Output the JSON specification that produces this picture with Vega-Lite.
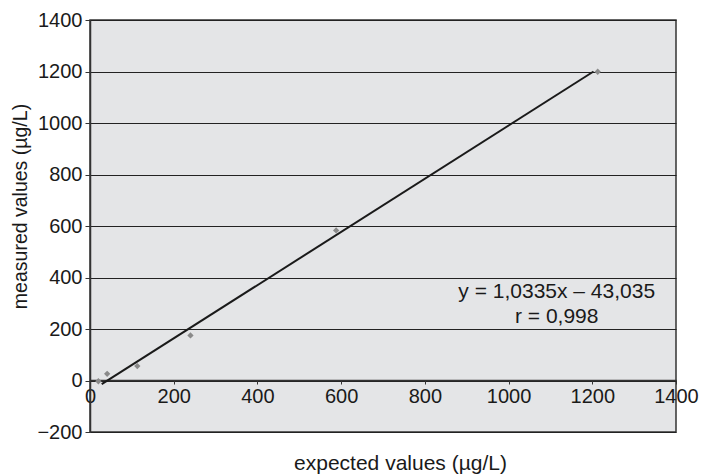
{
  "$schema": "https://vega.github.io/schema/vega-lite/v6.json",
  "autosize": "none",
  "width": 586,
  "height": 412,
  "padding": {"left": 90, "top": 20, "right": 25, "bottom": 44},
  "background": "white",
  "config": {
    "font": "Liberation Sans",
    "view": {"fill": "#e4e5e7", "stroke": "#333333", "strokeWidth": 1.5},
    "axis": {"labelFont": "Liberation Sans", "titleFont": "Liberation Sans", "labelFontSize": 20, "titleFontSize": 21, "labelColor": "#1a1a1a", "titleColor": "#1a1a1a", "titleFontWeight": "normal", "domainColor": "#333333", "tickColor": "#333333"}
  },
  "datasets": {
    "points": [
      {"expected": 20, "measured": -3},
      {"expected": 41, "measured": 26},
      {"expected": 113, "measured": 56},
      {"expected": 240, "measured": 175},
      {"expected": 588, "measured": 583},
      {"expected": 1213, "measured": 1199}
    ],
    "fit": [
      {"expected": 28, "measured": -14},
      {"expected": 1203, "measured": 1200}
    ],
    "labels": [
      {"expected": 1115, "measured": 344, "text": "y = 1,0335x – 43,035"},
      {"expected": 1115, "measured": 247, "text": "r = 0,998"}
    ]
  },
  "layer": [
    {
      "data": {"name": "points"},
      "mark": {"type": "point", "shape": "diamond", "filled": true, "color": "#8a8a8a", "size": 40, "opacity": 1},
      "encoding": {
        "x": {
          "field": "expected", "type": "quantitative",
          "scale": {"domain": [0, 1400], "nice": false, "zero": false},
          "axis": {
            "title": "expected values (µg/L)",
            "values": [0, 200, 400, 600, 800, 1000, 1200, 1400],
            "format": "d",
            "offset": -52,
            "grid": false,
            "domainWidth": 1.5,
            "tickSize": 4,
            "labelPadding": 2,
            "labelFlush": false,
            "labelOverlap": false,
            "titlePadding": 46,
            "titleX": 310,
            "titleAlign": "center"
          }
        },
        "y": {
          "field": "measured", "type": "quantitative",
          "scale": {"domain": [-200, 1400], "nice": false, "zero": false},
          "axis": {
            "title": "measured values (µg/L)",
            "values": [-200, 0, 200, 400, 600, 800, 1000, 1200, 1400],
            "format": "d",
            "grid": true,
            "gridColor": "#222222",
            "gridWidth": 1,
            "gridOpacity": 1,
            "domainWidth": 1.5,
            "tickSize": 5,
            "labelPadding": 3,
            "titleFontSize": 19.5,
            "titlePadding": 6,
            "titleY": 186,
            "titleAlign": "center"
          }
        }
      }
    },
    {
      "data": {"name": "fit"},
      "mark": {"type": "line", "color": "#1a1a1a", "strokeWidth": 2},
      "encoding": {
        "x": {"field": "expected", "type": "quantitative"},
        "y": {"field": "measured", "type": "quantitative"}
      }
    },
    {
      "data": {"name": "labels"},
      "mark": {"type": "text", "fontSize": 21, "color": "#1a1a1a", "align": "center", "baseline": "middle", "font": "Liberation Sans"},
      "encoding": {
        "x": {"field": "expected", "type": "quantitative"},
        "y": {"field": "measured", "type": "quantitative"},
        "text": {"field": "text"}
      }
    }
  ]
}
